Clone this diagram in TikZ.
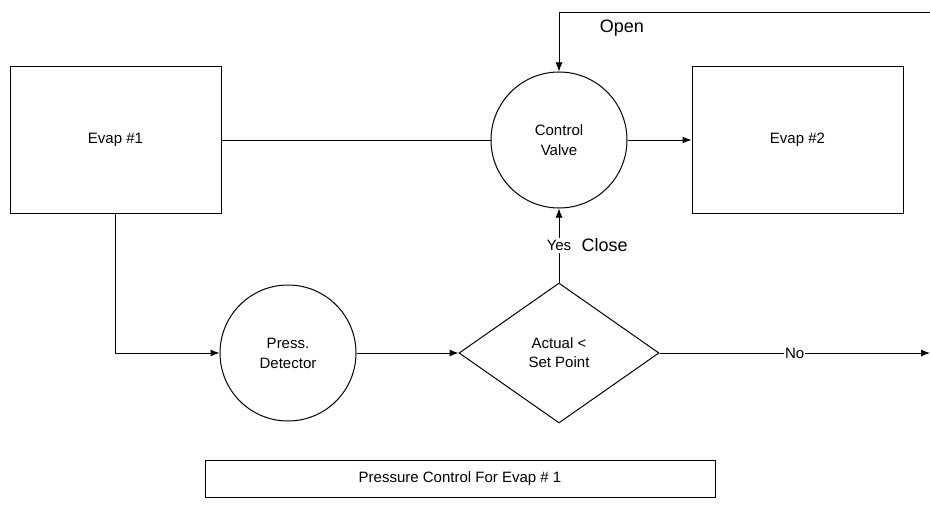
\documentclass[tikz,border=0pt]{standalone}
\usepackage{fontspec}
\setmainfont{Liberation Sans}
\usetikzlibrary{shapes.geometric,positioning,calc,arrows.meta}

\begin{document}
\begin{tikzpicture}[x=1pt,y=-1pt,line width=1pt,
				evap/.style={draw,rectangle,minimum width=211,minimum height=146,inner sep=0,font=\fontsize{15}{20}\selectfont},
				valve/.style={draw,circle,minimum size=136,inner sep=0,align=center,font=\fontsize{15}{20}\selectfont},
				decision/.style={draw,diamond,minimum width=200,minimum height=140,inner sep=0,align=center,font=\fontsize{15}{19}\selectfont},
				flow/.style={-{Latex[length=9pt,width=7pt]}},
				tag/.style={font=\fontsize{18}{20}\selectfont},]
				
				\useasboundingbox (0,0) rectangle (930,511);
				
				\node[evap] (evap1) at (115.5,140) {Evap \#1};
				\node[valve] (valve) at (559,140) {Control\\Valve};
				\node[evap] (evap2) at (797.5,140) {Evap \#2};
				\node[valve] (detector) at (288,353) {Press.\\Detector};
				\node[decision] (setpoint) at (559,353) {Actual <\\Set Point};
				\node[draw,minimum width=510,minimum height=37,inner sep=0,font=\fontsize{15}{18}\selectfont] (caption) at (460,478.5) {Pressure Control For Evap \# 1};
				
				\coordinate (openin) at (930,13);
				\coordinate (noout) at (930,353);
				
				\draw (evap1) -- (valve);
				\draw[flow] (valve) -- (evap2);
				\draw[flow] (evap1.south) |- (detector.west);
				\draw[flow] (detector) -- (setpoint);
				\draw[flow] (setpoint.north) -- node[fill=white,inner sep=2pt,font=\fontsize{15}{18}\selectfont] (yes) {Yes} (valve.south);
				\node[tag,right=4pt of yes] (close) {Close};
				\draw[flow] (setpoint.east) -- node[fill=white,inner sep=1pt,font=\fontsize{15}{18}\selectfont] (no) {No} (noout);
				\draw[flow] (openin) -| (valve.north);
				\node[tag,anchor=north west] (open) at (596,16) {Open};
				
\end{tikzpicture}
\end{document}
